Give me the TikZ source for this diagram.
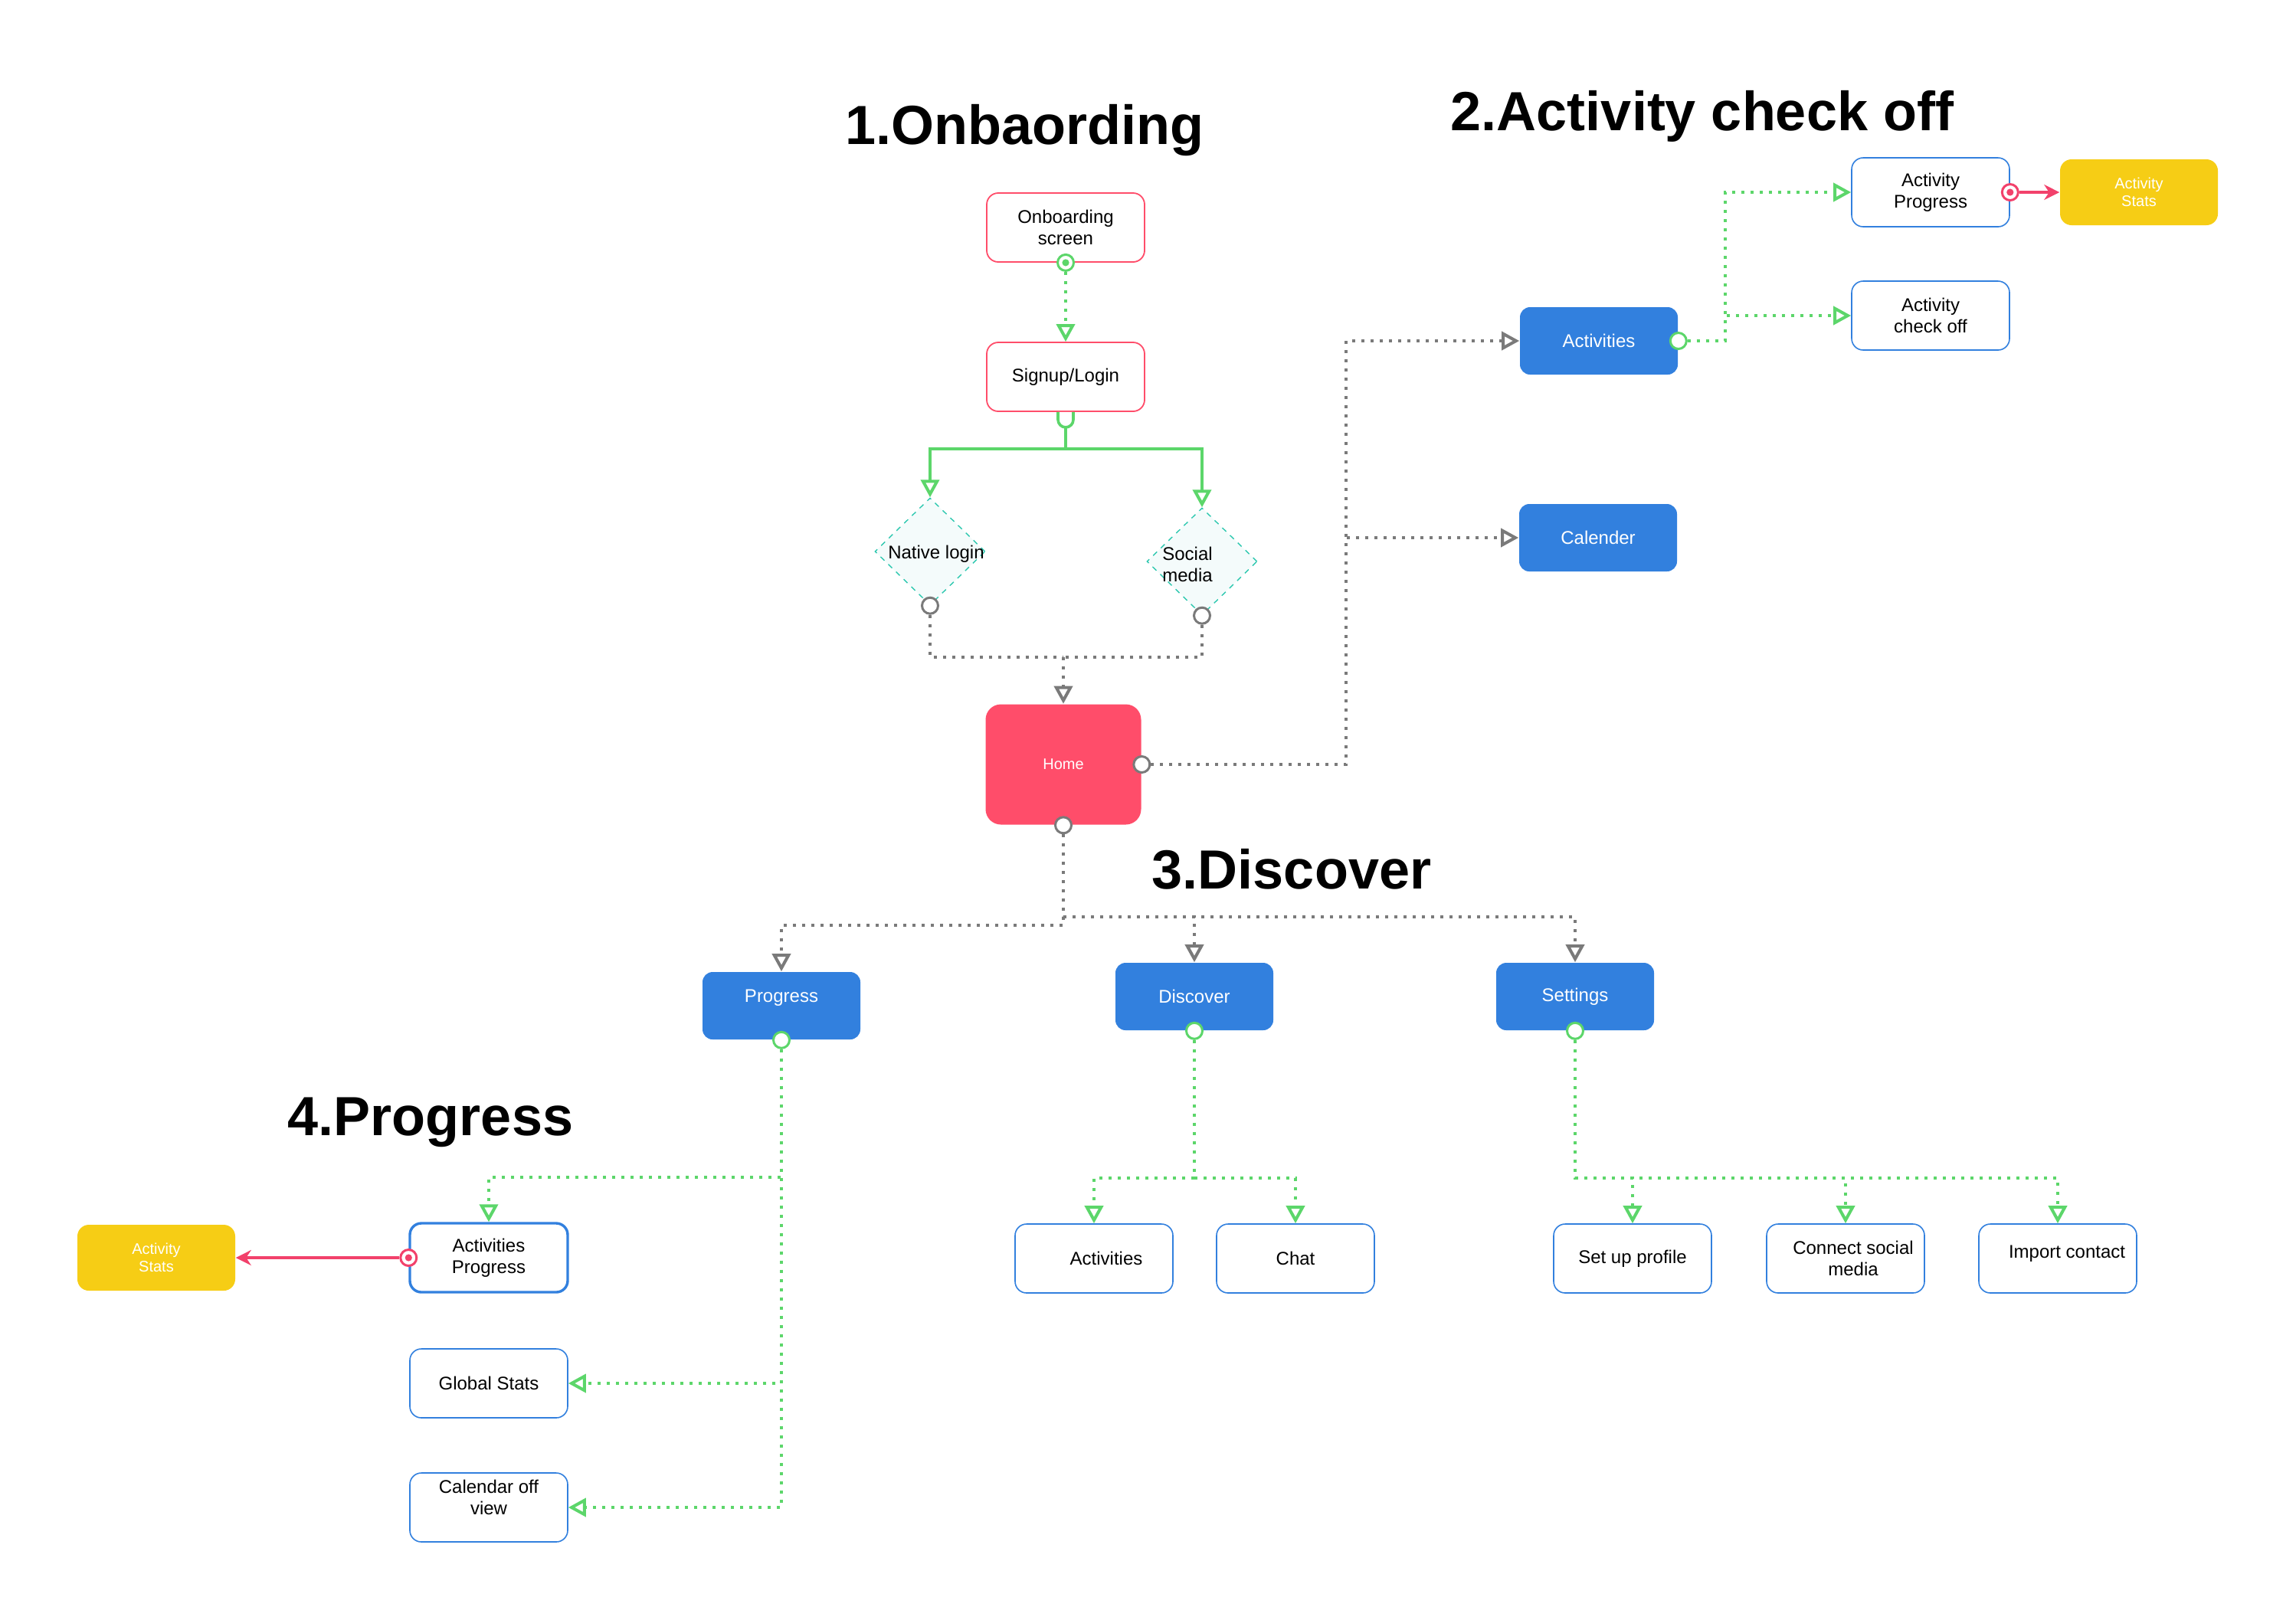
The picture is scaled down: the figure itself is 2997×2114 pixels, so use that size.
\documentclass[tikz,border=0pt]{standalone}
\usepackage{fontspec}
\setmainfont{Liberation Sans}
\usetikzlibrary{arrows.meta,shapes.geometric}

\definecolor{appred}{RGB}{255,77,106}
\definecolor{appblue}{RGB}{50,128,222}
\definecolor{appyellow}{RGB}{246,205,21}
\definecolor{appgreen}{RGB}{92,214,106}
\definecolor{appgray}{RGB}{122,122,122}
\definecolor{appteal}{RGB}{45,200,175}
\definecolor{chfill}{RGB}{244,251,251}
\definecolor{arrowpink}{RGB}{242,65,107}

\tikzset{
  otri/.tip={Triangle[fill=white,length=5.75pt,width=6pt,line width=1pt]},
  boxtext/.style={align=center, font={\fontsize{6pt}{7pt}\selectfont}},
  title/.style={anchor=base, font={\fontsize{18pt}{22pt}\selectfont\bfseries}},
  pinkbox/.style={boxtext, draw=appred, line width=0.45pt, rounded corners=3.75pt,
    minimum width=51.5pt, minimum height=22.5pt},
  outbox/.style={boxtext, draw=appblue, line width=0.4pt, rounded corners=3.75pt,
    minimum width=51.5pt, minimum height=22.5pt},
  bluebox/.style={boxtext, fill=appblue, text=white, rounded corners=3.3pt,
    minimum width=51.5pt, minimum height=22pt},
  statbox/.style={align=center, font={\fontsize{5pt}{5.75pt}\selectfont}, fill=appyellow,
    text=white, rounded corners=3.75pt, minimum width=51.5pt, minimum height=21.5pt},
  homebox/.style={font={\fontsize{5pt}{6pt}\selectfont}, fill=appred, text=white,
    rounded corners=5pt, minimum width=50.75pt, minimum height=39.25pt},
  choice/.style={diamond, draw=appteal, dash pattern=on 1.75pt off 1.75pt, fill=chfill,
    line width=0.35pt, minimum width=36pt, minimum height=35pt, inner sep=0pt},
  port/.style={circle, fill=white, line width=0.75pt, inner sep=0pt, minimum size=5.25pt},
  dotport/.style={port, draw=#1, path picture={\fill[#1] (path picture bounding box.center) circle[radius=1.15pt];}},
  gdot/.style={appgreen, line width=1pt, dash pattern=on 1pt off 2pt},
  gsolid/.style={appgreen, line width=1pt},
  graydot/.style={appgray, line width=1pt, dash pattern=on 1pt off 2pt},
  pinkline/.style={arrowpink, line width=0.8pt}
}

\begin{document}
\begin{tikzpicture}[x=0.25pt, y=-0.25pt]
\useasboundingbox (0,0) rectangle (2997,2114);

% Section titles
\node[title] (t-onb) at (1337,188) {1.Onbaording};
\node[title] (t-act) at (2222,170) {2.Activity check off};
\node[title] (t-disc) at (1686,1160) {3.Discover};
\node[title] (t-prog) at (562,1482) {4.Progress};

% 1. Onboarding
\node[pinkbox] (onb) at (1391,297) {Onboarding\\screen};
\node[pinkbox] (sign) at (1391,492) {Signup/Login};
\node[choice] (native) at (1214,720) {};
\node[boxtext] (native-t) at (1222,723) {Native login};
\node[choice] (social) at (1569,733) {};
\node[boxtext] (social-t) at (1550,737) {Social\\media};
\node[homebox] (home) at (1388,998) {Home};

\node[dotport=appgreen] (onb-p) at (onb.south) {};
\draw[gdot, -{otri}] (onb-p) -- (sign.north);

% cup shaped port under Signup/Login
\draw[appgreen, line width=0.9pt, fill=white] ([xshift=-2.5pt]sign.south) -- ++(0,10)
  arc[start angle=180, end angle=0, radius=10] -- ++(0,-10);
\coordinate (sign-p) at ([yshift=-5.25pt]sign.south);
\draw[gsolid, -{otri}] (sign-p) -- ++(0,27) -| (native.north);
\draw[gsolid, -{otri}] (sign-p) -- ++(0,27) -| (social.north);

\node[port, draw=appgray] (native-p) at (native.south) {};
\node[port, draw=appgray] (social-p) at (social.south) {};
\coordinate (merge) at (1388,858);
\draw[graydot] (native-p) |- (merge);
\draw[graydot] (social-p) |- (merge);
\draw[graydot, -{otri}] (merge) -- (home.north);

% 2. Activity check off
\node[bluebox] (acts) at (2087,445) {Activities};
\node[bluebox] (cal) at (2086,702) {Calender};
\node[outbox] (actprog) at (2520,251) {Activity\\Progress};
\node[outbox] (actcheck) at (2520,412) {Activity\\check off};
\node[statbox] (stats-a) at (2792,251) {Activity\\Stats};

\node[port, draw=appgray] (home-r) at (home.east) {};
\draw[graydot, -{otri}] (home-r) -- ++(267,0) |- (acts.west);
\draw[graydot, -{otri}] (home-r) -- ++(267,0) |- (cal.west);

\node[port, draw=appgreen] (acts-r) at (acts.east) {};
\draw[gdot, -{otri}] (acts-r) -- ++(61,0) |- (actprog.west);
\draw[gdot, -{otri}] (acts-r) -- ++(61,0) |- (actcheck.west);

\node[dotport=arrowpink] (actprog-r) at (actprog.east) {};
\draw[pinkline, -{Stealth[length=5pt,width=5pt]}] (actprog-r) -- (stats-a);

% 3. Discover
\node[bluebox, label={[boxtext, text=white, yshift=2.5pt]center:Progress}] (prog) at (1020,1313) {};
\node[bluebox] (disc) at (1559,1301) {Discover};
\node[bluebox] (sett) at (2056,1301) {Settings};

\node[port, draw=appgray] (home-b) at (home.south) {};
\draw[graydot, -{otri}] (home-b) -- ++(0,131) -| (prog.north);
\draw[graydot, -{otri}] (home-b) -- ++(0,120) -| (disc.north);
\draw[graydot, -{otri}] (home-b) -- ++(0,120) -| (sett.north);

\node[outbox, label={[boxtext, xshift=4pt]center:Activities}] (d-acts) at (1428,1643) {};
\node[outbox] (chat) at (1691,1643) {Chat};
\node[outbox] (profile) at (2131,1643) {Set up profile};
\node[outbox, label={[boxtext, xshift=2.5pt]center:Connect social\\media}] (connect) at (2409,1643) {};
\node[outbox, label={[boxtext, xshift=3pt, yshift=1.5pt]center:Import contact}] (import) at (2686,1643) {};

\node[port, draw=appgreen] (disc-b) at (disc.south) {};
\draw[gdot, -{otri}] (disc-b) -- ++(0,192) -| (d-acts.north);
\draw[gdot, -{otri}] (disc-b) -- ++(0,192) -| (chat.north);

\node[port, draw=appgreen] (sett-b) at (sett.south) {};
\draw[gdot, -{otri}] (sett-b) -- ++(0,192) -| (profile.north);
\draw[gdot, -{otri}] (sett-b) -- ++(0,192) -| (connect.north);
\draw[gdot, -{otri}] (sett-b) -- ++(0,192) -| (import.north);

% 4. Progress
\node[outbox, line width=0.85pt] (actsprog) at (638,1642) {Activities\\Progress};
\node[statbox] (stats-b) at (204,1642) {Activity\\Stats};
\node[outbox] (global) at (638,1806) {Global Stats};
\node[outbox, label={[boxtext, yshift=3.25pt]center:Calendar off\\view}] (calview) at (638,1968) {};

\node[port, draw=appgreen] (prog-b) at (prog.south) {};
\draw[gdot, -{otri}] (prog-b) -- ++(0,179) -| (actsprog.north);
\draw[gdot, -{otri}] (prog-b) |- (global.east);
\draw[gdot, -{otri}] (prog-b) |- (calview.east);

\node[dotport=arrowpink] (actsprog-l) at (actsprog.west) {};
\draw[pinkline, -{Stealth[length=5pt,width=5pt]}] (actsprog-l) -- (stats-b);

\end{tikzpicture}
\end{document}
